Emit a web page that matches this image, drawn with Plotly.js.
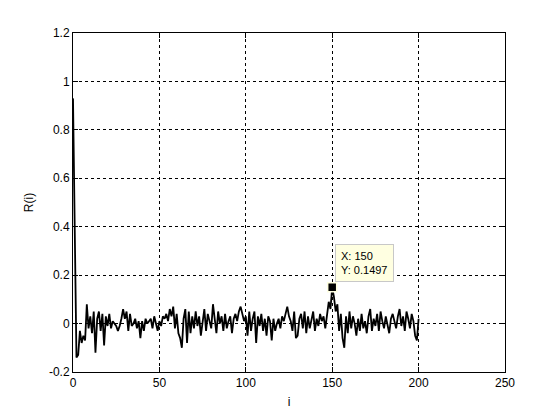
<!DOCTYPE html>
<html>
<head>
<meta charset="utf-8">
<script src="https://cdn.plot.ly/plotly-3.0.1.min.js"></script>
<style>body{margin:0;padding:0;background:#fff}#chart{width:560px;height:420px}</style>
</head>
<body>
<div id="chart"></div>
<script>
const rValues = [
 0.93, 0.36, -0.14, -0.13, -0.03, -0.08, -0.05, -0.07, 0.08, -0.02,
 0.03, -0.04, 0.05, -0.12, 0.02, 0.05, -0.03, 0.04, -0.09, 0.03,
 -0.01, 0.04, -0.02, 0.01, 0.00, -0.01, -0.03, -0.01, 0.02, 0.06,
 0.02, 0.05, -0.03, 0.04, -0.01, 0.00, 0.02, -0.02, 0.01, -0.06,
 0.01, -0.03, 0.02, 0.00, 0.01, 0.02, -0.02, 0.03, 0.00, -0.03,
 0.01, -0.01, 0.03, 0.02, 0.04, 0.01, 0.06, 0.03, 0.07, -0.02,
 0.04, -0.04, -0.06, -0.10, 0.02, 0.06, -0.08, 0.05, -0.04, 0.03,
 -0.02, 0.05, -0.01, 0.03, -0.05, 0.02, 0.06, -0.03, 0.04, 0.01,
 -0.02, 0.08, 0.02, -0.04, 0.05, 0.00, 0.03, -0.03, 0.04, -0.02,
 0.01, 0.03, -0.04, 0.02, 0.04, 0.01, 0.05, 0.07, 0.04, 0.01,
 0.03, -0.05, 0.05, -0.03, 0.02, 0.05, -0.08, 0.03, -0.01, 0.04,
 -0.03, 0.02, -0.05, 0.03, 0.01, -0.07, 0.02, -0.03, 0.00, 0.02,
 -0.02, 0.03, 0.01, 0.04, 0.07, 0.03, 0.01, -0.03, 0.05, -0.06,
 -0.05, 0.02, 0.04, -0.02, 0.05, -0.04, 0.03, -0.02, 0.01, 0.05,
 -0.03, 0.02, -0.01, 0.04, 0.01, 0.03, -0.02, 0.05, 0.09, 0.06,
 0.1497, 0.11, 0.05, 0.08, -0.03, 0.04, -0.06, -0.10, 0.03, -0.04,
 0.05, -0.02, 0.03, 0.00, -0.05, 0.02, -0.03, 0.04, -0.02, 0.01,
 -0.04, 0.03, 0.06, -0.03, 0.02, -0.01, 0.04, -0.03, 0.05, 0.01,
 -0.02, 0.03, 0.00, -0.04, 0.02, 0.04, 0.01, -0.02, 0.03, 0.06,
 -0.01, 0.03, -0.03, 0.05, 0.02, -0.02, 0.04, 0.01, -0.05, -0.07,
 0.02
];
const lagIndex = rValues.map((_, k) => k);
const tipX = [150];
const tipY = [0.1497];
const xTicks = [0, 50, 100, 150, 200, 250];
const yTicks = [-0.2, 0, 0.2, 0.4, 0.6, 0.8, 1, 1.2];
const yTickText = ['-0.2', '0', '0.2', '0.4', '0.6', '0.8', '1', '1.2'];

const traces = [
  {x: lagIndex, y: rValues, type: 'scatter', mode: 'lines',
   line: {color: '#000', width: 1.8}, hoverinfo: 'skip'},
  {x: tipX, y: tipY, type: 'scatter', mode: 'markers',
   marker: {symbol: 'square', size: 9, color: '#000', line: {color: '#ffffe1', width: 1.5}},
   hoverinfo: 'skip'}
];

const axisCommon = {
  showline: true, mirror: 'ticks', linecolor: '#000', linewidth: 1,
  ticks: 'inside', ticklen: 5, tickcolor: '#000',
  showgrid: true, gridcolor: '#000', griddash: '3px,3px', gridwidth: 1,
  zeroline: false, tickfont: {family: 'Liberation Sans, Arial', size: 12, color: '#000'}
};

const layout = {
  width: 560, height: 420,
  paper_bgcolor: '#fff', plot_bgcolor: '#fff',
  margin: {l: 73, r: 55, t: 33, b: 48},
  showlegend: false,
  font: {family: 'Liberation Sans, Arial', size: 12, color: '#000'},
  xaxis: Object.assign({}, axisCommon, {
    range: [0, 250], tickvals: xTicks,
    title: {text: 'i', standoff: 8, font: {size: 12, color: '#000'}}
  }),
  yaxis: Object.assign({}, axisCommon, {
    range: [-0.2, 1.2], tickvals: yTicks, ticktext: yTickText,
    title: {text: 'R(i)', standoff: 12, font: {size: 12, color: '#000'}}
  }),
  annotations: [{
    x: tipX[0], y: tipY[0], xref: 'x', yref: 'y',
    text: 'X: 150<br>Y: 0.1497', align: 'left', showarrow: false,
    xanchor: 'left', yanchor: 'bottom', xshift: 3, yshift: 5,
    bgcolor: '#ffffe1', bordercolor: '#c8c8c8', borderwidth: 1, borderpad: 5,
    font: {family: 'Liberation Sans, Arial', size: 11, color: '#000'}
  }]
};

Plotly.newPlot('chart', traces, layout, {displayModeBar: false, staticPlot: true});
</script>
</body>
</html>
